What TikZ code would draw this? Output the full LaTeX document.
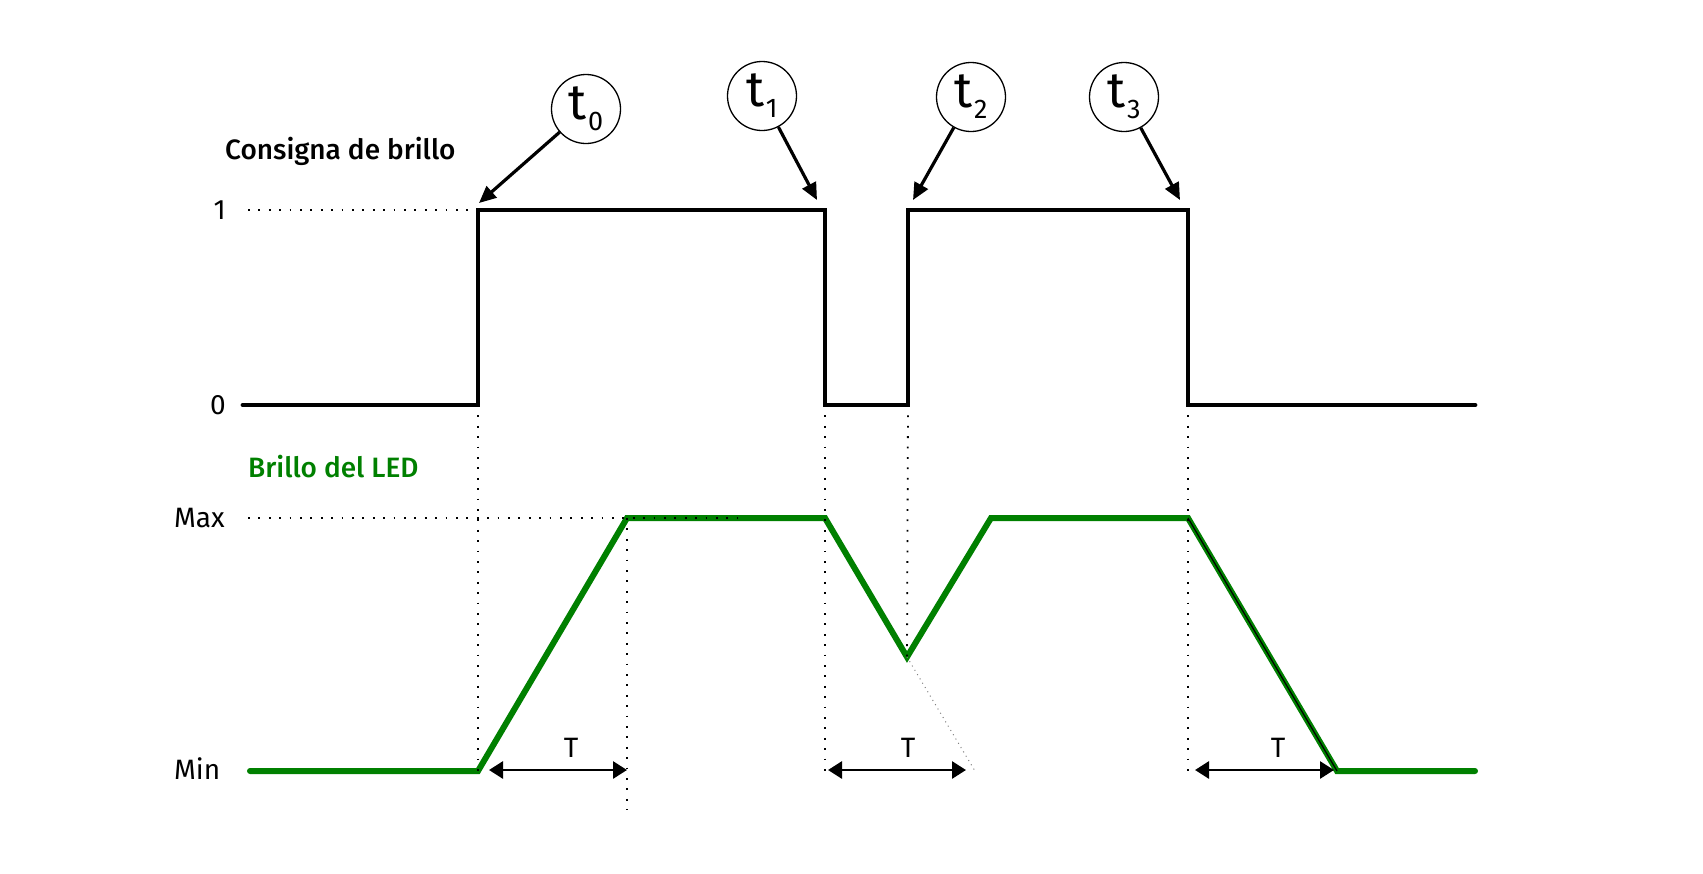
\documentclass[tikz,border=0pt]{standalone}
\usepackage{fontspec}
\setmainfont{Fira Sans}[BoldFont={Fira Sans Medium}]
\usetikzlibrary{arrows.meta}
\definecolor{ledgreen}{RGB}{0,128,0}
\begin{document}
\begin{tikzpicture}[x=1pt,y=-1pt,
  sig/.style={line width=4.8pt, line cap=round, line join=miter},
  led/.style={line width=6pt, draw=ledgreen, line cap=round, line join=miter},
  guide/.style={line width=1.8pt, dash pattern=on 1.8pt off 8.6pt},
  fineguide/.style={line width=1pt, draw=gray, dash pattern=on 1pt off 4pt},
  pointer/.style={line width=3.2pt, -{Triangle[length=17pt,width=15pt]}},
  span/.style={line width=2.8pt, {Triangle[length=14pt,width=17pt]}-{Triangle[length=14pt,width=17pt]}},
  tcirc/.style={circle, draw, line width=1.3pt, minimum size=69pt, inner sep=0pt},
  lbl/.style={font=\fontsize{28}{28}\selectfont, inner sep=0pt},
  blbl/.style={font=\fontsize{28}{28}\selectfont\bfseries, inner sep=0pt}]
\useasboundingbox (0,0) rectangle (1703,873);
\fill[white] (0,0) rectangle (1703,873);
% black signal coordinates
\coordinate (s0) at (243,405);
\coordinate (s1) at (478,405);
\coordinate (s2) at (478,210);
\coordinate (s3) at (825,210);
\coordinate (s4) at (825,405);
\coordinate (s5) at (908,405);
\coordinate (s6) at (908,210);
\coordinate (s7) at (1188,210);
\coordinate (s8) at (1188,405);
\coordinate (s9) at (1475,405);
% green signal coordinates
\coordinate (g0) at (250,771);
\coordinate (g1) at (478,771);
\coordinate (g2) at (627,518);
\coordinate (g3) at (825,518);
\coordinate (g4) at (907,657);
\coordinate (g5) at (991,518);
\coordinate (g6) at (1188,518);
\coordinate (g7) at (1337,771);
\coordinate (g8) at (1475,771);
% guide endpoints
\coordinate (h1) at (248,210);
\coordinate (hm0) at (248,518);
\coordinate (hm1) at (738,518);
\coordinate (v2) at (627,810);
\coordinate (v1) at (478,771);
\coordinate (v3) at (825,771);
\coordinate (v5) at (1188,771);
\coordinate (dg) at (975,771);
% signals
\draw[sig] (s0) -- (s1) -- (s2) -- (s3) -- (s4) -- (s5) -- (s6) -- (s7) -- (s8) -- (s9);
\draw[led] (g0) -- (g1) -- (g2) -- (g3) -- (g4) -- (g5) -- (g6) -- (g7) -- (g8);
\draw[line width=1.2pt] (g6) -- (g7);
% guides
\draw[guide] (h1) -- (s2);
\draw[guide] (hm0) -- (hm1);
\draw[guide] (s1) -- (v1);
\draw[guide] (g2) -- (v2);
\draw[guide] (s4) -- (v3);
\draw[guide] (s5) -- (g4);
\draw[guide] (s8) -- (v5);
\draw[fineguide] (g4) -- (dg);
% T spans
\coordinate (a1) at (489,770);
\coordinate (a2) at (627,770);
\coordinate (b1) at (828,770);
\coordinate (b2) at (966,770);
\coordinate (c1) at (1195,770);
\coordinate (c2) at (1334,770);
\draw[span] (a1) -- (a2);
\draw[span] (b1) -- (b2);
\draw[span] (c1) -- (c2);
\node[lbl] (T1) at (571,748) {T};
\node[lbl] (T2) at (908,748) {T};
\node[lbl] (T3) at (1278,748) {T};
% labels
\node[blbl, anchor=west] (cons) at (225,151) {Consigna de brillo};
\node[lbl, anchor=east] (one) at (226,210) {1};
\node[lbl, anchor=east] (zero) at (226,405) {0};
\node[blbl, anchor=west, text=ledgreen] (led) at (248,467) {Brillo del LED};
\node[lbl, anchor=west] (max) at (174,518) {Max};
\node[lbl, anchor=west] (min) at (174,769) {Min};
% time markers
\newcommand{\tmark}[1]{{\fontsize{50}{50}\selectfont t}\kern1.5pt\raisebox{-11pt}{\fontsize{27}{27}\selectfont #1}}
\node[tcirc] (t0) at (586,109) {\tmark{0}};
\node[tcirc] (t1) at (762,96) {\tmark{1}};
\node[tcirc] (t2) at (971,97) {\tmark{2}};
\node[tcirc] (t3) at (1124,97) {\tmark{3}};
\coordinate (p0) at (479,203);
\coordinate (p1) at (817,200);
\coordinate (p2) at (913,200);
\coordinate (p3) at (1180,200);
\draw[pointer] (t0) -- (p0);
\draw[pointer] (t1) -- (p1);
\draw[pointer] (t2) -- (p2);
\draw[pointer] (t3) -- (p3);
\end{tikzpicture}
\end{document}
